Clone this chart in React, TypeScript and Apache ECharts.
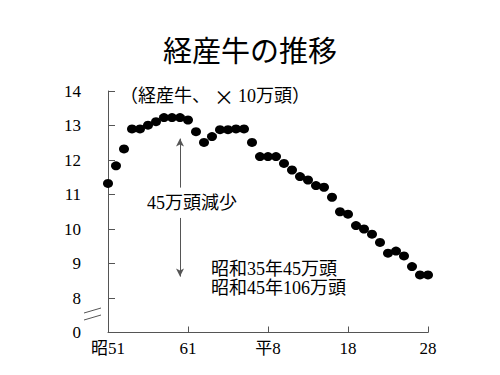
import React, { useEffect, useRef } from "react";
import * as echarts from "echarts";

const title = "経産牛の推移";
const unitNote = ["（経産牛、", "×", "10万頭）"];
const arrowNote = "45万頭減少";
const noteLines = ["昭和35年45万頭", "昭和45年106万頭"];

// years 昭和51 (1976) .. 平成28 (2016), index 0..40
const xTickLabels: Record<number, string> = { 0: "昭51", 10: "61", 20: "平8", 30: "18", 40: "28" };
const values = [
  11.32, 11.83, 12.32, 12.9, 12.9, 13.01, 13.11, 13.23, 13.23, 13.23,
  13.16, 12.82, 12.51, 12.68, 12.88, 12.88, 12.9, 12.9, 12.51, 12.1,
  12.1, 12.1, 11.9, 11.71, 11.52, 11.42, 11.26, 11.21, 10.92, 10.5,
  10.43, 10.1, 10.0, 9.85, 9.61, 9.3, 9.36, 9.22, 8.91, 8.67, 8.67,
];
const arrowX = 9;
const arrowUp = [11.2, 12.62];
const arrowDown = [10.32, 8.62];

const serif = "'Liberation Serif', 'Noto Sans CJK JP', serif";

export default function App() {
  const ref = useRef<HTMLDivElement>(null);
  useEffect(() => {
    document.body.style.margin = "0";
    const chart = echarts.init(ref.current!, null, { renderer: "svg" });
    const axisColor = "#555";
    chart.setOption({
      animation: false,
      backgroundColor: "#fff",
      title: {
        text: title,
        left: "center",
        top: 29,
        textStyle: { fontSize: 29, fontWeight: "normal", color: "#000", fontFamily: "'Noto Sans CJK JP', sans-serif" },
      },
      grid: { left: 108, right: 72, top: 91, bottom: 42.5 },
      xAxis: {
        type: "value",
        min: 0,
        max: 40,
        interval: 10,
        splitLine: { show: false },
        axisLine: { show: true, lineStyle: { color: axisColor, width: 1 } },
        axisTick: { show: true, inside: true, length: 6, lineStyle: { color: axisColor } },
        axisLabel: {
          formatter: (v: number) => xTickLabels[v] ?? "",
          fontSize: 17,
          color: "#000",
          fontFamily: serif,
          margin: 7,
        },
      },
      yAxis: {
        type: "value",
        min: 7,
        max: 14,
        interval: 1,
        offset: 15,
        splitLine: { show: false },
        axisLine: { show: true, lineStyle: { color: axisColor, width: 1 } },
        axisTick: { show: true, inside: true, length: 7, lineStyle: { color: axisColor } },
        axisLabel: {
          formatter: (v: number) => (v === 7 ? "0" : String(v)),
          fontSize: 17,
          color: "#000",
          fontFamily: serif,
          margin: 12,
        },
      },
      series: [
        {
          type: "scatter",
          data: values.map((v, i) => [i, v]),
          symbol: "circle",
          symbolSize: [10, 9],
          itemStyle: { color: "#000", opacity: 1 },
          markLine: {
            silent: true,
            label: { show: false },
            lineStyle: { color: "#555", width: 1, type: "solid" },
            symbolSize: [6, 8],
            data: [
              [
                { coord: [arrowX, arrowUp[0]], symbol: "none" },
                { coord: [arrowX, arrowUp[1]], symbol: "arrow" },
              ],
              [
                { coord: [arrowX, arrowDown[0]], symbol: "none" },
                { coord: [arrowX, arrowDown[1]], symbol: "arrow" },
              ],
            ],
          },
        },
      ],
      graphic: [
        {
          type: "text",
          left: 120,
          top: 86,
          style: {
            text: `{a|${unitNote[0]}}{b|${unitNote[1]}}{a|${unitNote[2]}}`,
            fill: "#000",
            rich: {
              a: { fontSize: 18, fontFamily: serif, fill: "#000" },
              b: { fontSize: 20, fontFamily: "'Noto Sans CJK JP', sans-serif", fill: "#000", padding: [0, 4, 0, 4] },
            },
          },
        },
        {
          type: "text",
          left: 147,
          top: 194,
          style: { text: arrowNote, fontSize: 18, fill: "#000", fontFamily: serif },
        },
        {
          type: "text",
          left: 211,
          top: 260,
          style: { text: noteLines[0], fontSize: 18, fill: "#000", fontFamily: serif },
        },
        {
          type: "text",
          left: 211,
          top: 279,
          style: { text: noteLines[1], fontSize: 18, fill: "#000", fontFamily: serif },
        },
        { type: "rect", shape: { x: 89, y: 311, width: 8, height: 6 }, style: { fill: "#fff" }, z: 100 },
        { type: "line", shape: { x1: 84, y1: 313, x2: 101, y2: 308 }, style: { stroke: axisColor, lineWidth: 1 }, z: 101 },
        { type: "line", shape: { x1: 84, y1: 320, x2: 101, y2: 315 }, style: { stroke: axisColor, lineWidth: 1 }, z: 101 },
      ],
    });
    return () => chart.dispose();
  }, []);
  return <div ref={ref} style={{ width: 500, height: 375 }} />;
}
